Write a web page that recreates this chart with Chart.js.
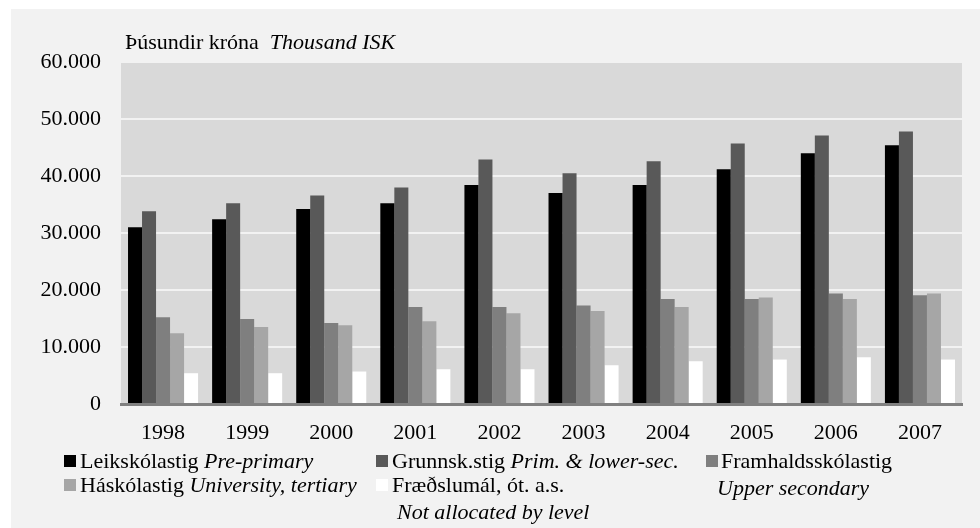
<!DOCTYPE html>
<html>
<head>
<meta charset="utf-8">
<script src="https://cdn.jsdelivr.net/npm/chart.js@4"></script>
<style>
  html, body { margin: 0; padding: 0; background: #ffffff; }
  #wrap { position: relative; width: 980px; height: 528px; overflow: hidden; }
  #panel { position: absolute; left: 11px; top: 9px; width: 969px; height: 519px; background: #f2f2f2; }
  #c { position: absolute; left: 0; top: 0; }
  .txt { position: absolute; font-family: "Liberation Serif", "Times New Roman", serif; font-size: 22px; line-height: 22px; color: #000; white-space: nowrap; }
  .box { position: absolute; width: 12px; height: 12px; }
  i { font-style: italic; }
</style>
</head>
<body>
<div id="wrap">
  <div id="panel"></div>
  <canvas id="c" width="980" height="528"></canvas>
  <div id="overlay"></div>
</div>
<script>
// ---- data ----
const years = ['1998','1999','2000','2001','2002','2003','2004','2005','2006','2007'];
const leikskoli   = [31000, 32400, 34200, 35200, 38400, 37000, 38400, 41200, 44000, 45400];
const grunnskoli  = [33800, 35200, 36600, 38000, 42900, 40500, 42600, 45700, 47100, 47800];
const framhald    = [15200, 14900, 14200, 17000, 17000, 17300, 18400, 18400, 19400, 19100];
const haskoli     = [12400, 13500, 13800, 14500, 15900, 16300, 17000, 18700, 18400, 19400];
const fraedslumal = [5400, 5400, 5700, 6100, 6100, 6800, 7500, 7800, 8200, 7800];
const seriesIs = ['Leikskólastig', 'Grunnsk.stig', 'Framhaldsskólastig', 'Háskólastig', 'Fræðslumál, ót. a.s.'];
const seriesEn = ['Pre-primary', 'Prim. & lower-sec.', 'Upper secondary', 'University, tertiary', 'Not allocated by level'];
const yTicks = [0, 10000, 20000, 30000, 40000, 50000, 60000];
const titleIs = 'Þúsundir króna';
const titleEn = 'Thousand ISK';

const colors = ['#000000', '#595959', '#7f7f7f', '#a6a6a6', '#ffffff'];
const values = [leikskoli, grunnskoli, framhald, haskoli, fraedslumal];
const FONT = '"Liberation Serif", "Times New Roman", serif';

const plotBg = {
  id: 'plotBg',
  beforeDraw(chart) {
    const {ctx, chartArea: a} = chart;
    ctx.save();
    ctx.fillStyle = '#d9d9d9';
    ctx.fillRect(a.left, a.top, a.right - a.left, a.bottom - a.top);
    ctx.restore();
  }
};

const fmt = v => String(v).replace(/\B(?=(\d{3})+(?!\d))/g, '.');

const chart = new Chart(document.getElementById('c'), {
  type: 'bar',
  data: {
    labels: years,
    datasets: values.map((v, i) => ({
      label: seriesIs[i] + ' ' + seriesEn[i],
      data: v,
      backgroundColor: colors[i],
      borderWidth: 0,
      categoryPercentage: 0.833,
      barPercentage: 1.0
    }))
  },
  options: {
    responsive: false,
    animation: false,
    devicePixelRatio: 1,
    layout: { padding: { left: 0, right: 18, top: 62, bottom: 84 } },
    plugins: { legend: { display: false }, title: { display: false }, tooltip: { enabled: false } },
    scales: {
      x: {
        grid: { display: false, drawTicks: false },
        border: { display: true, color: '#808080', width: 3 },
        ticks: { color: '#000', font: { family: FONT, size: 22 }, padding: 16, maxRotation: 0 },
        afterFit(s) { s.height = 40; }
      },
      y: {
        min: 0, max: 60000,
        afterBuildTicks(s) { s.ticks = yTicks.map(v => ({ value: v })); },
        grid: { color: '#f2f2f2', lineWidth: 2, drawTicks: false },
        border: { display: false },
        ticks: { color: '#000', font: { family: FONT, size: 22 }, padding: 20, callback: v => fmt(v) },
        afterFit(s) { s.width = 121; }
      }
    }
  },
  plugins: [plotBg]
});

// ---- title & legend as HTML text ----
const ov = document.getElementById('overlay');
function addText(html, x, baseline) {
  const d = document.createElement('div');
  d.className = 'txt';
  d.innerHTML = html;
  d.style.left = x + 'px';
  d.style.top = (baseline - 18.4) + 'px';
  ov.appendChild(d);
}
function addBox(color, x, baseline) {
  const b = document.createElement('div');
  b.className = 'box';
  b.style.background = color;
  b.style.left = x + 'px';
  b.style.top = (baseline - 13) + 'px';
  ov.appendChild(b);
}
addText(titleIs + '&nbsp; <i>' + titleEn + '</i>', 125, 49);

const legendSlots = [
  { box: 64,  text: 80,  base: 468, wrapBase: null },
  { box: 376, text: 392, base: 468, wrapBase: null },
  { box: 706, text: 721, base: 468, wrapBase: 495, wrapX: 717 },
  { box: 64,  text: 80,  base: 492, wrapBase: null },
  { box: 376, text: 392, base: 492, wrapBase: 519, wrapX: 397 }
];
legendSlots.forEach((s, i) => {
  addBox(colors[i], s.box, s.base);
  if (s.wrapBase) {
    addText(seriesIs[i], s.text, s.base);
    addText('<i>' + seriesEn[i] + '</i>', s.wrapX, s.wrapBase);
  } else {
    addText(seriesIs[i] + ' <i>' + seriesEn[i] + '</i>', s.text, s.base);
  }
});
</script>
</body>
</html>
